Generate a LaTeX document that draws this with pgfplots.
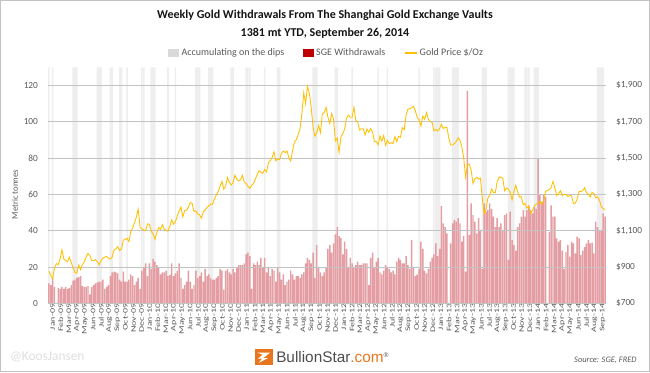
\documentclass[border=0pt]{standalone}
\usepackage{pgfplots}
\pgfplotsset{compat=1.18}
\usepackage{pgfplotstable}
\usepackage{graphicx}
\usepackage{fontspec}
\setmainfont{Carlito}
\newfontfamily\logofont{Liberation Sans}
\definecolor{txt}{RGB}{89,89,89}
\definecolor{gridc}{RGB}{195,195,195}
\definecolor{band}{RGB}{238,238,238}
\definecolor{legband}{RGB}{217,217,217}
\definecolor{barfill}{RGB}{228,158,163}
\definecolor{baredge}{RGB}{192,0,0}
\definecolor{goldc}{RGB}{255,192,0}
\definecolor{orangec}{RGB}{232,118,30}
\definecolor{logogray}{RGB}{77,77,77}
\definecolor{titlec}{RGB}{20,20,20}
\definecolor{wm}{RGB}{222,222,222}
\newcommand{\ml}[1]{\scalebox{1}[0.7]{#1}}

% weekly SGE withdrawals (tonnes), week 0 = 2 Jan 2009 ... week 299 = 26 Sep 2014
\pgfplotstableread[row sep=\\]{v\\
11\\10\\14\\9\\0\\8.5\\8\\9\\8\\9\\8\\8.5\\10\\12.5\\13\\14\\14.5\\15\\9.5\\9\\9\\9.5\\5\\9\\10\\11\\11.5\\12\\12\\13\\8\\9\\10\\15\\17\\17.5\\17\\16.5\\13\\12\\17.5\\12\\12\\13\\16\\15\\10\\12\\14\\8\\18\\20\\
22\\15\\22\\19\\24.5\\23\\21\\20\\16\\17\\17\\18\\15\\15.5\\22\\15\\16.5\\18\\22\\14\\8\\10\\12\\18\\12\\8\\10\\18\\14\\15\\17\\12\\19\\15\\16\\14\\13\\13\\14\\15\\19\\18\\7.5\\18\\19\\17\\16\\19\\17\\20\\21\\21\\21\\
22\\27\\28\\26\\8\\22\\21\\23\\21\\25\\20\\25\\17\\20\\15\\19\\18\\12\\20\\17\\13\\16\\10\\12\\13\\18\\16\\13\\15\\15\\14\\16\\17\\22\\25\\24\\22\\28\\14\\32\\20\\17\\15\\17\\20\\30\\32\\28\\33\\38\\42\\37\\
36\\27\\34\\30\\20\\25\\22\\20\\21\\23\\21\\21\\22\\22\\22\\10\\25\\28\\20\\23\\25\\17\\16\\18\\21\\20\\19\\17\\18\\16\\23\\25\\24\\22\\22\\26\\21\\19\\35\\20\\15\\16\\19\\34\\30\\18\\16.5\\19\\23\\25\\27\\33\\
26\\30\\53.6\\44\\42\\38.5\\0\\33\\44\\46\\45\\47\\44\\34\\37\\17.4\\117\\37.6\\55\\48.6\\45\\38.5\\47\\40\\19\\55\\50.5\\51.4\\55\\52\\47.7\\42\\47\\42\\44\\40\\48.6\\49.5\\24\\50.5\\35\\32\\29\\42\\44\\47.7\\51.4\\47.7\\51.4\\54\\51.4\\49.5\\
53\\52\\79.8\\59.6\\56\\59.6\\58.7\\0\\39.4\\54\\47.7\\47.7\\35.8\\34\\35\\29\\19\\28.4\\32\\25.7\\34\\33\\27.5\\36.7\\35.8\\26.6\\29\\31\\33\\35\\33\\33.4\\27.5\\45\\42\\40\\40\\49.5\\47.7\\
}\withdrawals

% weekly gold price (USD/oz)
\pgfplotstableread[row sep=\\]{p\\
878\\853\\835\\895\\919\\913\\945\\995\\943\\936\\930\\954\\924\\896\\870\\866\\911\\885\\913\\928\\955\\975\\962\\937\\935\\940\\930\\912\\935\\950\\955\\958\\948\\944\\955\\995\\1000\\1012\\990\\1000\\1048\\1052\\1058\\1040\\1095\\1115\\1145\\1175\\1218\\1120\\1110\\1104\\
1100\\1138\\1136\\1097\\1083\\1052\\1090\\1117\\1108\\1133\\1107\\1104\\1098\\1125\\1160\\1136\\1150\\1180\\1210\\1230\\1176\\1212\\1213\\1230\\1256\\1250\\1206\\1210\\1191\\1188\\1169\\1205\\1215\\1228\\1237\\1247\\1246\\1277\\1296\\1316\\1345\\1372\\1328\\1346\\1393\\1366\\1352\\1363\\1406\\1385\\1375\\1380\\1405\\
1369\\1360\\1344\\1333\\1350\\1360\\1385\\1410\\1430\\1421\\1416\\1437\\1424\\1474\\1486\\1504\\1535\\1485\\1494\\1492\\1526\\1539\\1531\\1539\\1502\\1483\\1541\\1590\\1601\\1628\\1663\\1743\\1860\\1800\\1895\\1858\\1780\\1670\\1620\\1640\\1680\\1640\\1745\\1750\\1780\\1725\\1690\\1745\\1717\\1595\\1610\\1531\\
1616\\1635\\1660\\1720\\1737\\1725\\1725\\1780\\1706\\1699\\1655\\1662\\1662\\1628\\1660\\1642\\1663\\1643\\1590\\1591\\1573\\1622\\1593\\1625\\1570\\1598\\1580\\1585\\1580\\1618\\1590\\1620\\1615\\1668\\1656\\1735\\1770\\1772\\1776\\1786\\1760\\1724\\1710\\1676\\1731\\1714\\1750\\1714\\1701\\1696\\1650\\1658\\
1649\\1662\\1687\\1663\\1669\\1668\\1610\\1572\\1572\\1580\\1592\\1612\\1598\\1560\\1501\\1395\\1462\\1467\\1433\\1360\\1385\\1394\\1384\\1390\\1280\\1192\\1222\\1280\\1295\\1330\\1310\\1310\\1370\\1395\\1395\\1390\\1320\\1335\\1330\\1310\\1270\\1316\\1350\\1315\\1285\\1287\\1243\\1250\\1225\\1235\\1195\\1211\\
1238\\1247\\1251\\1264\\1244\\1257\\1318\\1321\\1326\\1338\\1372\\1336\\1294\\1303\\1320\\1293\\1300\\1300\\1288\\1294\\1292\\1250\\1252\\1274\\1316\\1316\\1320\\1337\\1310\\1303\\1285\\1311\\1305\\1280\\1286\\1268\\1232\\1222\\1214\\
}\gold

% weeks marked "accumulating on the dips"
\pgfplotstableread[row sep=\\]{w h\\
0 130\\2 130\\13 130\\14 130\\15 130\\26 130\\27 130\\28 130\\33 130\\34 130\\38 130\\39 130\\42 130\\50 130\\51 130\\55 130\\56 130\\57 130\\64 130\\68 130\\79 130\\80 130\\81 130\\86 130\\87 130\\88 130\\98 130\\99 130\\106 130\\107 130\\108 130\\116 130\\123 130\\124 130\\142 130\\143 130\\144 130\\154 130\\155 130\\163 130\\177 130\\182 130\\199 130\\207 130\\208 130\\209 130\\210 130\\217 130\\218 130\\219 130\\220 130\\233 130\\234 130\\235 130\\247 130\\248 130\\249 130\\250 130\\256 130\\257 130\\258 130\\261 130\\262 130\\263 130\\295 130\\296 130\\297 130\\298 130\\
}\bands

\begin{document}
\begin{tikzpicture}
\useasboundingbox (0,0) rectangle (487.5pt,279pt);
\draw[gridc, line width=0.75pt] (0.4pt,0.4pt) rectangle (487.1pt,278.6pt);

\begin{axis}[
  at={(36pt,51.5pt)}, anchor=south west,
  scale only axis, width=418.5pt, height=177pt,
  xmin=-0.5, xmax=299.5, ymin=0, ymax=130,
  ytick={0,20,...,120},
  xtick={-0.14,4.208,...,296},
  xticklabels={\ml{Jan-09},\ml{Feb-09},\ml{Mar-09},\ml{Apr-09},\ml{May-09},\ml{Jun-09},\ml{Jul-09},\ml{Aug-09},\ml{Sep-09},\ml{Oct-09},\ml{Nov-09},\ml{Dec-09},
    \ml{Jan-10},\ml{Feb-10},\ml{Mar-10},\ml{Apr-10},\ml{May-10},\ml{Jun-10},\ml{Jul-10},\ml{Aug-10},\ml{Sep-10},\ml{Oct-10},\ml{Nov-10},\ml{Dec-10},
    \ml{Jan-11},\ml{Feb-11},\ml{Mar-11},\ml{Apr-11},\ml{May-11},\ml{Jun-11},\ml{Jul-11},\ml{Aug-11},\ml{Sep-11},\ml{Oct-11},\ml{Nov-11},\ml{Dec-11},
    \ml{Jan-12},\ml{Feb-12},\ml{Mar-12},\ml{Apr-12},\ml{May-12},\ml{Jun-12},\ml{Jul-12},\ml{Aug-12},\ml{Sep-12},\ml{Oct-12},\ml{Nov-12},\ml{Dec-12},
    \ml{Jan-13},\ml{Feb-13},\ml{Mar-13},\ml{Apr-13},\ml{May-13},\ml{Jun-13},\ml{Jul-13},\ml{Aug-13},\ml{Sep-13},\ml{Oct-13},\ml{Nov-13},\ml{Dec-13},
    \ml{Jan-14},\ml{Feb-14},\ml{Mar-14},\ml{Apr-14},\ml{May-14},\ml{Jun-14},\ml{Jul-14},\ml{Aug-14},\ml{Sep-14}},
  xticklabel style={rotate=90, anchor=east, inner sep=0pt, yshift=-3pt, font=\fontsize{7.5}{7.5}\selectfont, text=txt},
  yticklabel style={font=\fontsize{7}{7}\selectfont, text=txt, xshift=-4pt},
  /pgf/number format/assume math mode=true,
  axis line style={draw=none},
  major tick length=0pt,
  legend style={at={(0.5,1)}, anchor=center, yshift=10.75pt, draw=none, fill=none,
    legend columns=3, font=\fontsize{7.5}{8}\selectfont, text=txt,
    /tikz/every even column/.append style={column sep=12pt}},
]
\addplot[ybar, bar width=0.85, bar shift=0pt, fill=band, draw=none, forget plot] table[x=w, y=h]{\bands};
\addplot[ybar, bar width=0.78, bar shift=0pt, fill=barfill, draw=none, forget plot] table[x expr=\coordindex, y=v]{\withdrawals};
\addlegendimage{legend image code/.code={\fill[legband] (0pt,-2.7pt) rectangle (7.5pt,2.7pt);}}
\addlegendentry{Accumulating on the dips}
\addlegendimage{legend image code/.code={\fill[baredge] (0pt,-2.7pt) rectangle (7.5pt,2.7pt);}}
\addlegendentry{SGE Withdrawals}
\addlegendimage{legend image code/.code={\draw[goldc, line width=0.8pt] (0pt,0pt) -- (9pt,0pt);}}
\addlegendentry{Gold Price \$/Oz}
\end{axis}

\begin{axis}[
  at={(36pt,51.5pt)}, anchor=south west,
  scale only axis, width=418.5pt, height=177pt,
  xmin=-0.5, xmax=299.5, ymin=700, ymax=2000,
  xtick=\empty,
  ytick={700,900,...,1900},
  yticklabels={{\$700},{\$900},{\$1,100},{\$1,300},{\$1,500},{\$1,700},{\$1,900}},
  yticklabel pos=right,
  yticklabel style={font=\fontsize{7}{7}\selectfont, text=txt, xshift=4pt},
  ymajorgrids, grid style={gridc, line width=0.6pt},
  axis line style={draw=none},
  major tick length=0pt,
]
\addplot[goldc, line width=0.65pt, no markers] table[x expr=\coordindex, y=p]{\gold};
\end{axis}

\node[rotate=90, font=\fontsize{6.5}{7}\selectfont, text=txt] at (11.25pt,133pt) {Metric tonnes};

\node[font=\bfseries\fontsize{9}{11}\selectfont, text=titlec] at (243.75pt,267.75pt) {Weekly Gold Withdrawals From The Shanghai Gold Exchange Vaults};
\node[font=\bfseries\fontsize{9}{11}\selectfont, text=titlec] at (243.75pt,254.25pt) {1381 mt YTD, September 26, 2014};

\node[anchor=west, font=\fontsize{10}{12}\selectfont, text=wm] at (4pt,11.5pt) {@KoosJansen};
\node[anchor=east, font=\itshape\fontsize{6.3}{7}\selectfont, text=txt] at (481pt,9pt) {Source: SGE, FRED};

\fill[orangec] (191pt,5.5pt) rectangle (204.5pt,17pt);
\fill[white] (193pt,14.5pt) -- (202.5pt,14.5pt) -- (197.5pt,10.5pt) -- (201pt,10.5pt) -- (194pt,6.8pt) -- (196.5pt,10pt) -- (193.5pt,10pt) -- (197pt,13pt) -- cycle;
\node[anchor=west, inner sep=0pt, font=\logofont\fontsize{11.5}{12}\selectfont] at (207pt,11pt) {\textcolor{logogray}{BullionStar}\textcolor{orangec}{.com}\textsuperscript{\textcolor{logogray}{\fontsize{5}{5}\selectfont\textregistered}}};
\end{tikzpicture}
\end{document}
